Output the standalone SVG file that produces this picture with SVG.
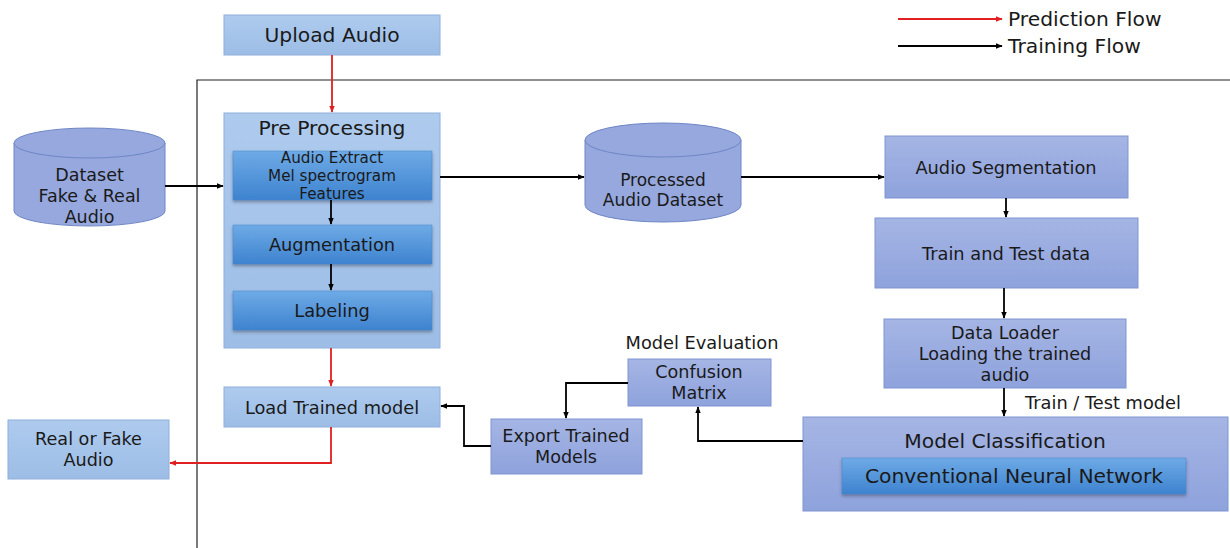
<svg xmlns="http://www.w3.org/2000/svg" width="1230" height="548" viewBox="0 0 1230 548">
<defs>
<linearGradient id="gLight" x1="0" y1="0" x2="0" y2="1"><stop offset="0" stop-color="#aecbee"/><stop offset="1" stop-color="#9dbde6"/></linearGradient>
<linearGradient id="gPurple" x1="0" y1="0" x2="0" y2="1"><stop offset="0" stop-color="#a5b5e4"/><stop offset="1" stop-color="#8ea2dc"/></linearGradient>
<linearGradient id="gInner" x1="0" y1="0" x2="0" y2="1"><stop offset="0" stop-color="#6eaae6"/><stop offset="1" stop-color="#3e83cf"/></linearGradient>
<filter id="sh" x="-5%" y="-20%" width="110%" height="150%"><feDropShadow dx="0" dy="2" stdDeviation="1.5" flood-color="#334" flood-opacity="0.45"/></filter>
<marker id="ab" viewBox="0 0 10 10" refX="9" refY="5" markerWidth="7" markerHeight="7" orient="auto" markerUnits="userSpaceOnUse"><path d="M0,1 L10,5 L0,9 z" fill="#000"/></marker>
<marker id="ar" viewBox="0 0 10 10" refX="9" refY="5" markerWidth="7" markerHeight="7" orient="auto" markerUnits="userSpaceOnUse"><path d="M0,1 L10,5 L0,9 z" fill="#e02020"/></marker>
</defs>
<style>
text{font-family:"DejaVu Sans",sans-serif;fill:#1a1a1a;text-anchor:middle;dominant-baseline:central}
.lb{fill:url(#gLight);stroke:#8eb0dc;stroke-width:1}
.pb{fill:url(#gPurple);stroke:#7f95d0;stroke-width:1}
.ib{fill:url(#gInner);stroke:#4a86cc;stroke-width:0.5;filter:url(#sh)}
.cyl{fill:#96a8dd;stroke:#6f86c6;stroke-width:1}
.k{stroke:#000;stroke-width:1.8;fill:none;marker-end:url(#ab)}
.r{stroke:#e02020;stroke-width:1.8;fill:none;marker-end:url(#ar)}
.t15{font-size:17.8px}
.m15{font-size:17.6px}
.t16{font-size:17.5px}
.p16{font-size:17px}
.t17{font-size:20.3px}
.t13{font-size:15.2px}
</style>
<rect width="1230" height="548" fill="#fff"/>
<path d="M197,548 V80 H1230" fill="none" stroke="#222" stroke-width="1.2"/>

<g id="legend">
<line x1="898" y1="19" x2="1002" y2="19" class="r"/>
<text x="1008" y="19" class="t17" style="text-anchor:start">Prediction Flow</text>
<line x1="898" y1="46" x2="1002" y2="46" class="k"/>
<text x="1008" y="46" class="t17" style="text-anchor:start">Training Flow</text>
</g>

<g id="upload"><rect x="224" y="15" width="216" height="40" class="lb"/><text x="332" y="35" class="t17">Upload Audio</text></g>

<g id="dataset">
<path d="M14,143 V211 A75.5,15 0 0 0 165,211 V143" class="cyl"/>
<ellipse cx="89.5" cy="143" rx="75.5" ry="15" class="cyl"/>
<text x="89.5" y="175" class="t16">Dataset</text>
<text x="89.5" y="196" class="t16">Fake &amp; Real</text>
<text x="89.5" y="217" class="t16">Audio</text>
</g>

<g id="preprocessing">
<rect x="224" y="113" width="216" height="235" class="lb"/>
<text x="332" y="128" class="t17">Pre Processing</text>
<g id="extract"><rect x="233" y="151" width="199" height="49" class="ib"/>
<text x="332" y="158" class="t13">Audio Extract</text>
<text x="332" y="176" class="t13">Mel spectrogram</text>
<text x="332" y="194" class="t13">Features</text></g>
<g id="augmentation"><rect x="233" y="225" width="199" height="39" class="ib"/><text x="332" y="244" class="t15">Augmentation</text></g>
<g id="labeling"><rect x="233" y="291" width="199" height="39" class="ib"/><text x="332" y="310" class="t15">Labeling</text></g>
</g>

<g id="processed">
<path d="M585,140 V205 A78,17 0 0 0 741,205 V140" class="cyl"/>
<ellipse cx="663" cy="140" rx="78" ry="17" class="cyl"/>
<text x="663" y="180" class="p16">Processed</text>
<text x="663" y="200" class="p16">Audio Dataset</text>
</g>

<g id="segmentation"><rect x="885" y="136" width="243" height="62" class="pb"/><text x="1006" y="167" class="t15">Audio Segmentation</text></g>
<g id="traintest"><rect x="875" y="218" width="263" height="70" class="pb"/><text x="1006" y="253" class="t15">Train and Test data</text></g>
<g id="dataloader"><rect x="884" y="319" width="242" height="69" class="pb"/>
<text x="1005" y="333" class="m15">Data Loader</text>
<text x="1005" y="354" class="m15">Loading the trained</text>
<text x="1005" y="375" class="m15">audio</text></g>

<g id="classification"><rect x="803" y="417" width="425" height="94" class="pb"/>
<text x="1005" y="441" class="t17">Model Classification</text>
<g id="cnn"><rect x="842" y="458" width="344" height="36" class="ib"/><text x="1014" y="476" class="t17">Conventional Neural Network</text></g></g>

<g id="confusion">
<text x="702" y="342" class="t15">Model Evaluation</text>
<rect x="628" y="359" width="143" height="47" class="pb"/>
<text x="699" y="372" class="m15">Confusion</text>
<text x="699" y="393" class="m15">Matrix</text></g>

<g id="export"><rect x="491" y="419" width="151" height="55" class="pb"/>
<text x="566" y="436" class="m15">Export Trained</text>
<text x="566" y="457" class="m15">Models</text></g>

<g id="loadmodel"><rect x="224" y="387" width="216" height="40" class="lb"/><text x="332" y="407" class="t15">Load Trained  model</text></g>

<g id="result"><rect x="8" y="420" width="161" height="59" class="lb"/>
<text x="88.5" y="439" class="m15">Real or Fake</text>
<text x="88.5" y="460" class="m15">Audio</text></g>

<g id="connectors">
<line x1="332" y1="55" x2="332" y2="112" class="r"/>
<line x1="165" y1="186" x2="223" y2="186" class="k"/>
<line x1="331" y1="200" x2="331" y2="224" class="k"/>
<line x1="331" y1="264" x2="331" y2="290" class="k"/>
<line x1="440" y1="177" x2="584" y2="177" class="k"/>
<line x1="741" y1="177" x2="884" y2="177" class="k"/>
<line x1="1006" y1="198" x2="1006" y2="217" class="k"/>
<line x1="1004" y1="288" x2="1004" y2="318" class="k"/>
<line x1="1004" y1="388" x2="1004" y2="416" class="k"/>
<text x="1025" y="402" class="t15" style="text-anchor:start">Train / Test model</text>
<path d="M803,441 H698 V407" class="k"/>
<path d="M628,383 H566 V418" class="k"/>
<path d="M491,446 H464 V406 H441" class="k"/>
<line x1="331" y1="348" x2="331" y2="386" class="r"/>
<path d="M331,427 V463 H170" class="r"/>
</g>
</svg>
